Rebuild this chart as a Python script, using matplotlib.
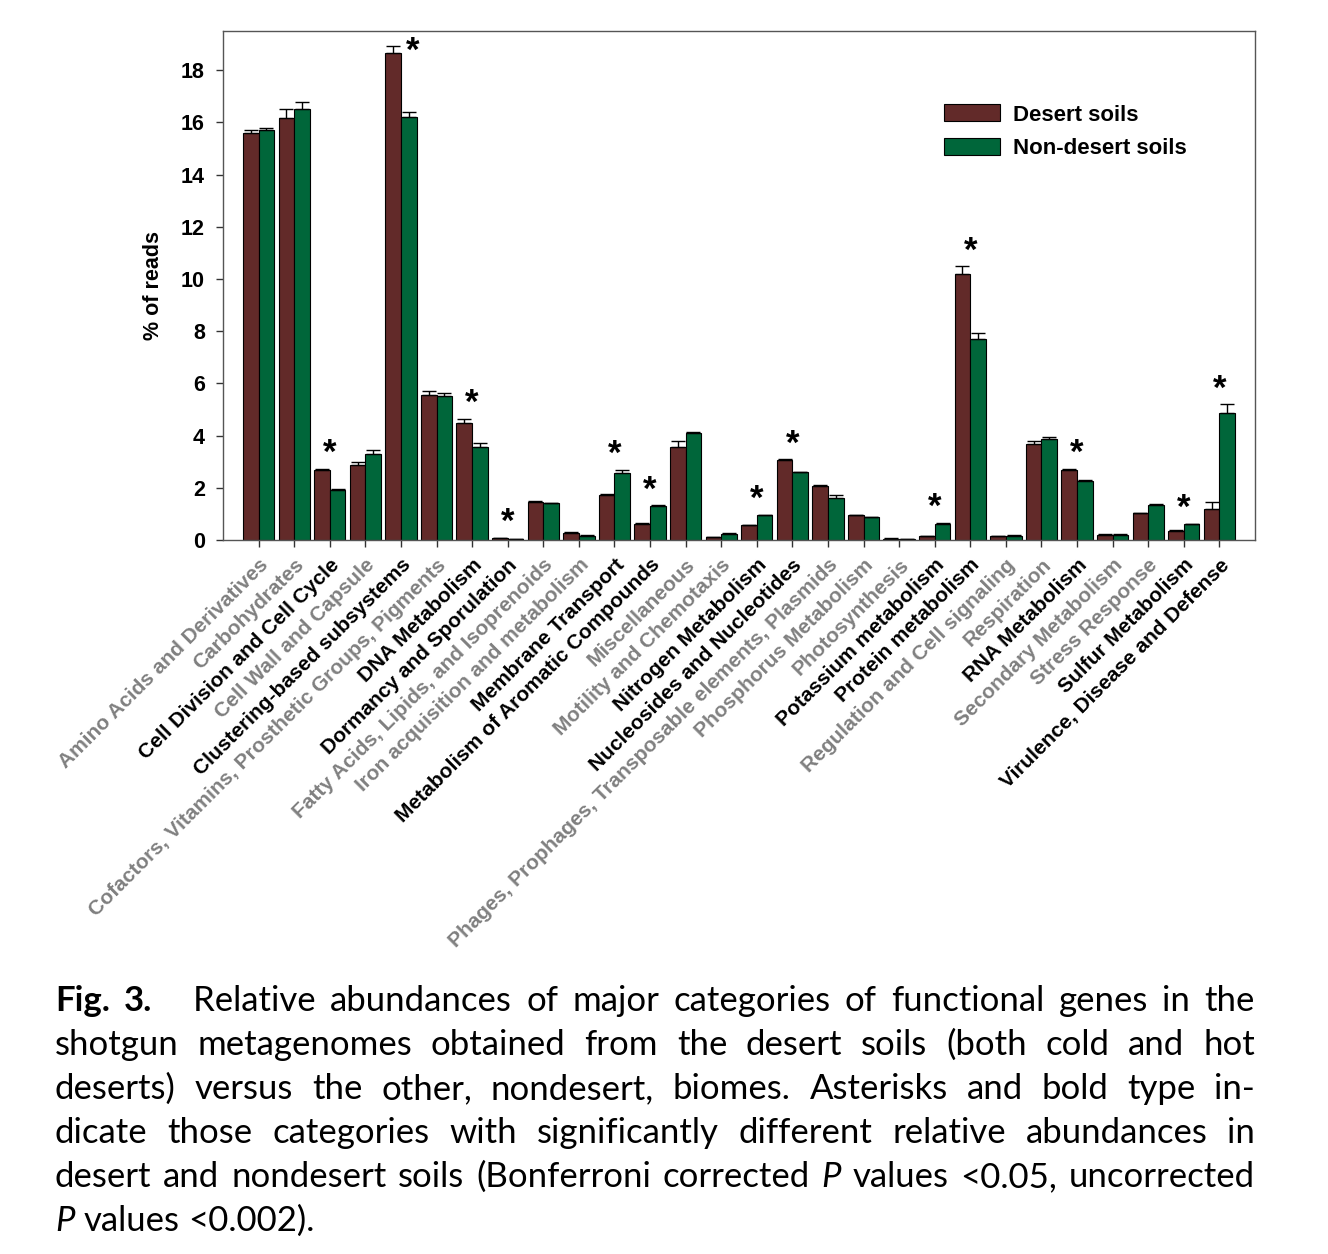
import matplotlib
matplotlib.use("Agg")
import matplotlib.pyplot as plt
import numpy as np

categories = [
    "Amino Acids and Derivatives", "Carbohydrates", "Cell Division and Cell Cycle",
    "Cell Wall and Capsule", "Clustering-based subsystems",
    "Cofactors, Vitamins, Prosthetic Groups, Pigments", "DNA Metabolism",
    "Dormancy and Sporulation", "Fatty Acids, Lipids, and Isoprenoids",
    "Iron acquisition and metabolism", "Membrane Transport",
    "Metabolism of Aromatic Compounds", "Miscellaneous", "Motility and Chemotaxis",
    "Nitrogen Metabolism", "Nucleosides and Nucleotides",
    "Phages, Prophages, Transposable elements, Plasmids", "Phosphorus Metabolism",
    "Photosynthesis", "Potassium metabolism", "Protein metabolism",
    "Regulation and Cell signaling", "Respiration", "RNA Metabolism",
    "Secondary Metabolism", "Stress Response", "Sulfur Metabolism",
    "Virulence, Disease and Defense",
]
desert = [15.6, 16.17, 2.68, 2.88, 18.67, 5.55, 4.50, 0.07, 1.45, 0.26, 1.73, 0.63,
          3.58, 0.10, 0.57, 3.06, 2.07, 0.94, 0.05, 0.15, 10.2, 0.15, 3.67, 2.68,
          0.21, 1.03, 0.34, 1.19]
desert_err = [0.10, 0.33, 0.05, 0.09, 0.27, 0.17, 0.15, 0.01, 0.03, 0.03, 0.03, 0.04,
              0.20, 0.01, 0.02, 0.03, 0.03, 0.03, 0.01, 0.02, 0.28, 0.02, 0.11, 0.05,
              0.01, 0.02, 0.03, 0.28]
nondesert = [15.7, 16.5, 1.93, 3.30, 16.2, 5.52, 3.58, 0.03, 1.40, 0.17, 2.55, 1.30,
             4.10, 0.24, 0.94, 2.59, 1.59, 0.87, 0.02, 0.63, 7.70, 0.17, 3.87, 2.25,
             0.21, 1.36, 0.61, 4.86]
nondesert_err = [0.07, 0.28, 0.03, 0.13, 0.20, 0.13, 0.14, 0.01, 0.03, 0.02, 0.15, 0.03,
                 0.04, 0.02, 0.02, 0.02, 0.13, 0.02, 0.01, 0.02, 0.24, 0.01, 0.06, 0.03,
                 0.01, 0.02, 0.02, 0.34]
significant = [False, False, True, False, True, False, True, True, False, False, True, True,
               False, False, True, True, False, False, False, True, True, False, False, True,
               False, False, True, True]
series_names = ["Desert soils", "Non-desert soils"]
yticks = [0, 2, 4, 6, 8, 10, 12, 14, 16, 18]

caption_lines = [
    [("Fig.", "bold"), ("3.", "bold"), ("\u2003Relative", "normal"), ("abundances", "normal"), ("of", "normal"),
     ("major", "normal"), ("categories", "normal"), ("of", "normal"), ("functional", "normal"),
     ("genes", "normal"), ("in", "normal"), ("the", "normal")],
    "shotgun metagenomes obtained from the desert soils (both cold and hot",
    "deserts) versus the other, nondesert, biomes. Asterisks and bold type in-",
    "dicate those categories with significantly different relative abundances in",
    [("desert", "normal"), ("and", "normal"), ("nondesert", "normal"), ("soils", "normal"),
     ("(Bonferroni", "normal"), ("corrected", "normal"), ("P", "italic"), ("values", "normal"),
     ("<0.05,", "normal"), ("uncorrected", "normal")],
    [("P", "italic"), ("values", "normal"), ("<0.002).", "normal")],
]

c_desert = "#622a29"
c_non = "#00663a"

W, H = 1328, 1254
fig = plt.figure(figsize=(W / 100, H / 100), dpi=100)
ax = fig.add_axes([223 / W, 1 - 540 / H, (1255 - 223) / W, (540 - 31) / H])

x = np.arange(len(categories))
bw = 0.44
zeros = np.zeros(len(categories))
ax.bar(x - bw / 2, desert, bw, color=c_desert, edgecolor="black", linewidth=0.8,
       yerr=[zeros, desert_err], capsize=5, error_kw=dict(elinewidth=1.0, capthick=1.0, ecolor="black"),
       label=series_names[0], zorder=2)
ax.bar(x + bw / 2, nondesert, bw, color=c_non, edgecolor="black", linewidth=0.8,
       yerr=[zeros, nondesert_err], capsize=5, error_kw=dict(elinewidth=1.0, capthick=1.0, ecolor="black"),
       label=series_names[1], zorder=2)

ymax = 19.5
ax.set_ylim(0, ymax)
ax.set_xlim(-1.0, len(categories))
ax.set_yticks(yticks)
ax.set_yticklabels([str(t) for t in yticks], fontsize=15.5, fontweight="bold", family="Liberation Sans")
ax.set_xticks(x)
ax.set_xticklabels(categories, rotation=45, ha="right", rotation_mode="anchor",
                   fontsize=15, family="Liberation Sans")
for lab, sig in zip(ax.get_xticklabels(), significant):
    lab.set_fontweight("bold")
    lab.set_color("black" if sig else "#808080")
ax.tick_params(axis="both", direction="out", length=5, width=1, color="#333333")
ax.tick_params(axis="x", pad=6)
ax.tick_params(axis="y", pad=8)
for s in ax.spines.values():
    s.set_color("#555555")
    s.set_linewidth(1.0)
ax.set_ylabel("% of reads", fontsize=15.5, fontweight="bold", family="Liberation Sans", labelpad=12)

# significance asterisks
for i in range(len(categories)):
    if not significant[i]:
        continue
    top = max(desert[i] + desert_err[i], nondesert[i] + nondesert_err[i])
    yy = top - 0.05
    xx = x[i]
    if yy > ymax - 1.5:
        yy = top - 0.85
        xx = x[i] + 0.33
    ax.text(xx, yy, "*", ha="center", va="bottom", fontsize=25, fontweight="bold",
            family="Liberation Sans", zorder=3)

leg = ax.legend(loc="upper left", bbox_to_anchor=((945 - 223) / (1255 - 223) - 0.020, 0.895),
                frameon=False,
                prop=dict(family="Liberation Sans", weight="bold", size=16),
                handlelength=2.5, handleheight=0.8, handletextpad=0.6, labelspacing=0.55)

# caption, justified
renderer = fig.canvas.get_renderer()
cap_font = "Lato"
cap_size = 25
left_px, right_px = 55, 1255
line_y = [1001, 1045, 1089, 1133, 1177, 1221]


def tokens_of(line):
    if isinstance(line, str):
        return [(w, "normal") for w in line.split(" ")]
    return line


def make_text(tok, style, xpx, ypx):
    kw = dict(fontsize=cap_size, family=cap_font, va="center", ha="left")
    if style == "bold":
        kw["fontweight"] = "bold"
    elif style == "italic":
        kw["fontstyle"] = "italic"
    return fig.text(xpx / W, 1 - ypx / H, tok, **kw)


for li, line in enumerate(caption_lines):
    toks = tokens_of(line)
    texts = [make_text(t, s, 0, line_y[li]) for t, s in toks]
    widths = [t.get_window_extent(renderer).width for t in texts]
    total = sum(widths)
    n = len(toks)
    justify = li < len(caption_lines) - 1
    if justify and n > 1:
        gap = (right_px - left_px - total) / (n - 1)
    else:
        space = make_text(" ", "normal", 0, 0)
        gap = space.get_window_extent(renderer).width
        space.remove()
        gap = max(gap, 7)
    xp = left_px
    for t, w in zip(texts, widths):
        t.set_x(xp / W)
        xp += w + gap

fig.savefig("out.png", dpi=100)
